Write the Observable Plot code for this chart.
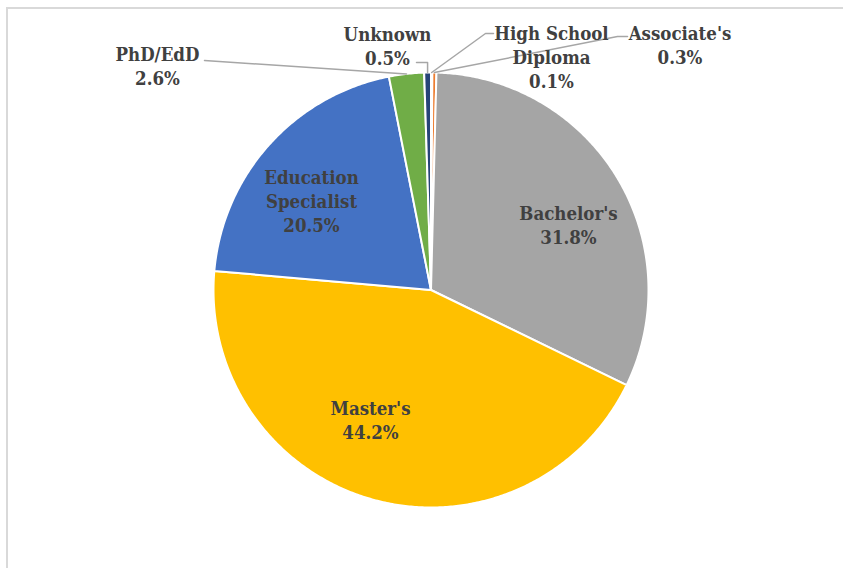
<!DOCTYPE html>
<html><head><meta charset="utf-8">
<script src="https://cdn.jsdelivr.net/npm/d3@7"></script>
<script src="https://cdn.jsdelivr.net/npm/@observablehq/plot@0.6"></script>
<style>
html,body{margin:0;padding:0;background:#fff;}
#wrap{position:relative;width:843px;height:568px;overflow:hidden;}
#frame{position:absolute;left:6px;top:7px;width:900px;height:700px;border-left:2px solid #d9d9d9;border-top:2px solid #d9d9d9;pointer-events:none;}
#chart svg text{font-family:"DejaVu Serif Condensed","DejaVu Serif",serif !important;font-weight:bold;}
</style></head><body><div id="wrap"><div id="chart"></div><div id="frame"></div></div>
<script>
// ---- data ----
const categories = ["High School Diploma", "Associate's", "Bachelor's", "Master's", "Education Specialist", "PhD/EdD", "Unknown"];
const labelNames = ["High School\nDiploma", "Associate's", "Bachelor's", "Master's", "Education\nSpecialist", "PhD/EdD", "Unknown"];
const shares = [0.1, 0.3, 31.8, 44.2, 20.5, 2.6, 0.5];
const colors = ["#F4B183", "#ED7D31", "#A5A5A5", "#FFC000", "#4472C4", "#70AD47", "#264478"];

// ---- layout (pixels) ----
const W = 843, H = 568, cx = 430.5, cy = 289.5, R = 217.5;
const labelCenters = {
  "High School Diploma": [551, 56],
  "Associate's": [679.5, 44],
  "Bachelor's": [568, 223.5],
  "Master's": [370, 419],
  "Education Specialist": [311, 199.5],
  "PhD/EdD": [157, 65],
  "Unknown": [387, 44.5]
};
const leaders = {
  "PhD/EdD": [[204, 60]],
  "Unknown": [[416, 62], ["ax", 62]],
  "High School Diploma": [[493, 33], [485, 33]],
  "Associate's": [[627, 36], [617, 36]]
};

const toU = ([px, py]) => [(px - cx) / R, (cy - py) / R];

const arcs = d3.pie().sort(null).value(d => d)(shares);
const slices = arcs.map((a, i) => {
  const n = Math.max(2, Math.ceil((a.endAngle - a.startAngle) / (Math.PI / 360)));
  const ring = [[0, 0]];
  for (let k = 0; k <= n; k++) {
    const t = a.startAngle + (a.endAngle - a.startAngle) * k / n;
    ring.push([Math.sin(t), Math.cos(t)]);
  }
  ring.push([0, 0]);
  return {category: categories[i], geometry: {type: "Polygon", coordinates: [ring]}};
});

const leaderLines = arcs.map((a, i) => {
  const cat = categories[i];
  if (!leaders[cat]) return null;
  const m = (a.startAngle + a.endAngle) / 2;
  const anchor = [Math.sin(m), Math.cos(m)];
  const ax = cx + anchor[0] * R;
  const pts = leaders[cat].map(([x, y]) => toU([x === "ax" ? ax : x, y]));
  pts.push(anchor);
  return {category: cat, geometry: {type: "LineString", coordinates: pts}};
}).filter(d => d);

const labels = categories.map((c, i) => {
  const [ux, uy] = toU(labelCenters[c]);
  return {category: c, x: ux, y: uy, text: labelNames[i] + "\n" + shares[i].toFixed(1) + "%"};
});

const [x0, y1] = toU([0, 0]);
const [x1, y0] = toU([W, H]);

const chart = Plot.plot({
  width: W, height: H,
  margin: 0,
  projection: {
    type: () => d3.geoIdentity().reflectY(true),
    domain: {type: "MultiPoint", coordinates: [[x0, y0], [x1, y1]]}
  },
  color: {type: "ordinal", domain: categories, range: colors},
  style: {background: "white"},
  marks: [
    Plot.geo(slices, {geometry: "geometry", fill: "category", stroke: "white", strokeWidth: 2}),
    Plot.geo(leaderLines, {geometry: "geometry", stroke: "#a6a6a6", strokeWidth: 1.5, fill: "none"}),
    Plot.text(labels, {
      x: "x", y: "y", text: "text",
      fontWeight: "bold", fontSize: 18.5,
      lineHeight: 1.3, fill: "#404040", textAnchor: "middle"
    })
  ]
});
document.getElementById("chart").appendChild(chart);
</script></body></html>
